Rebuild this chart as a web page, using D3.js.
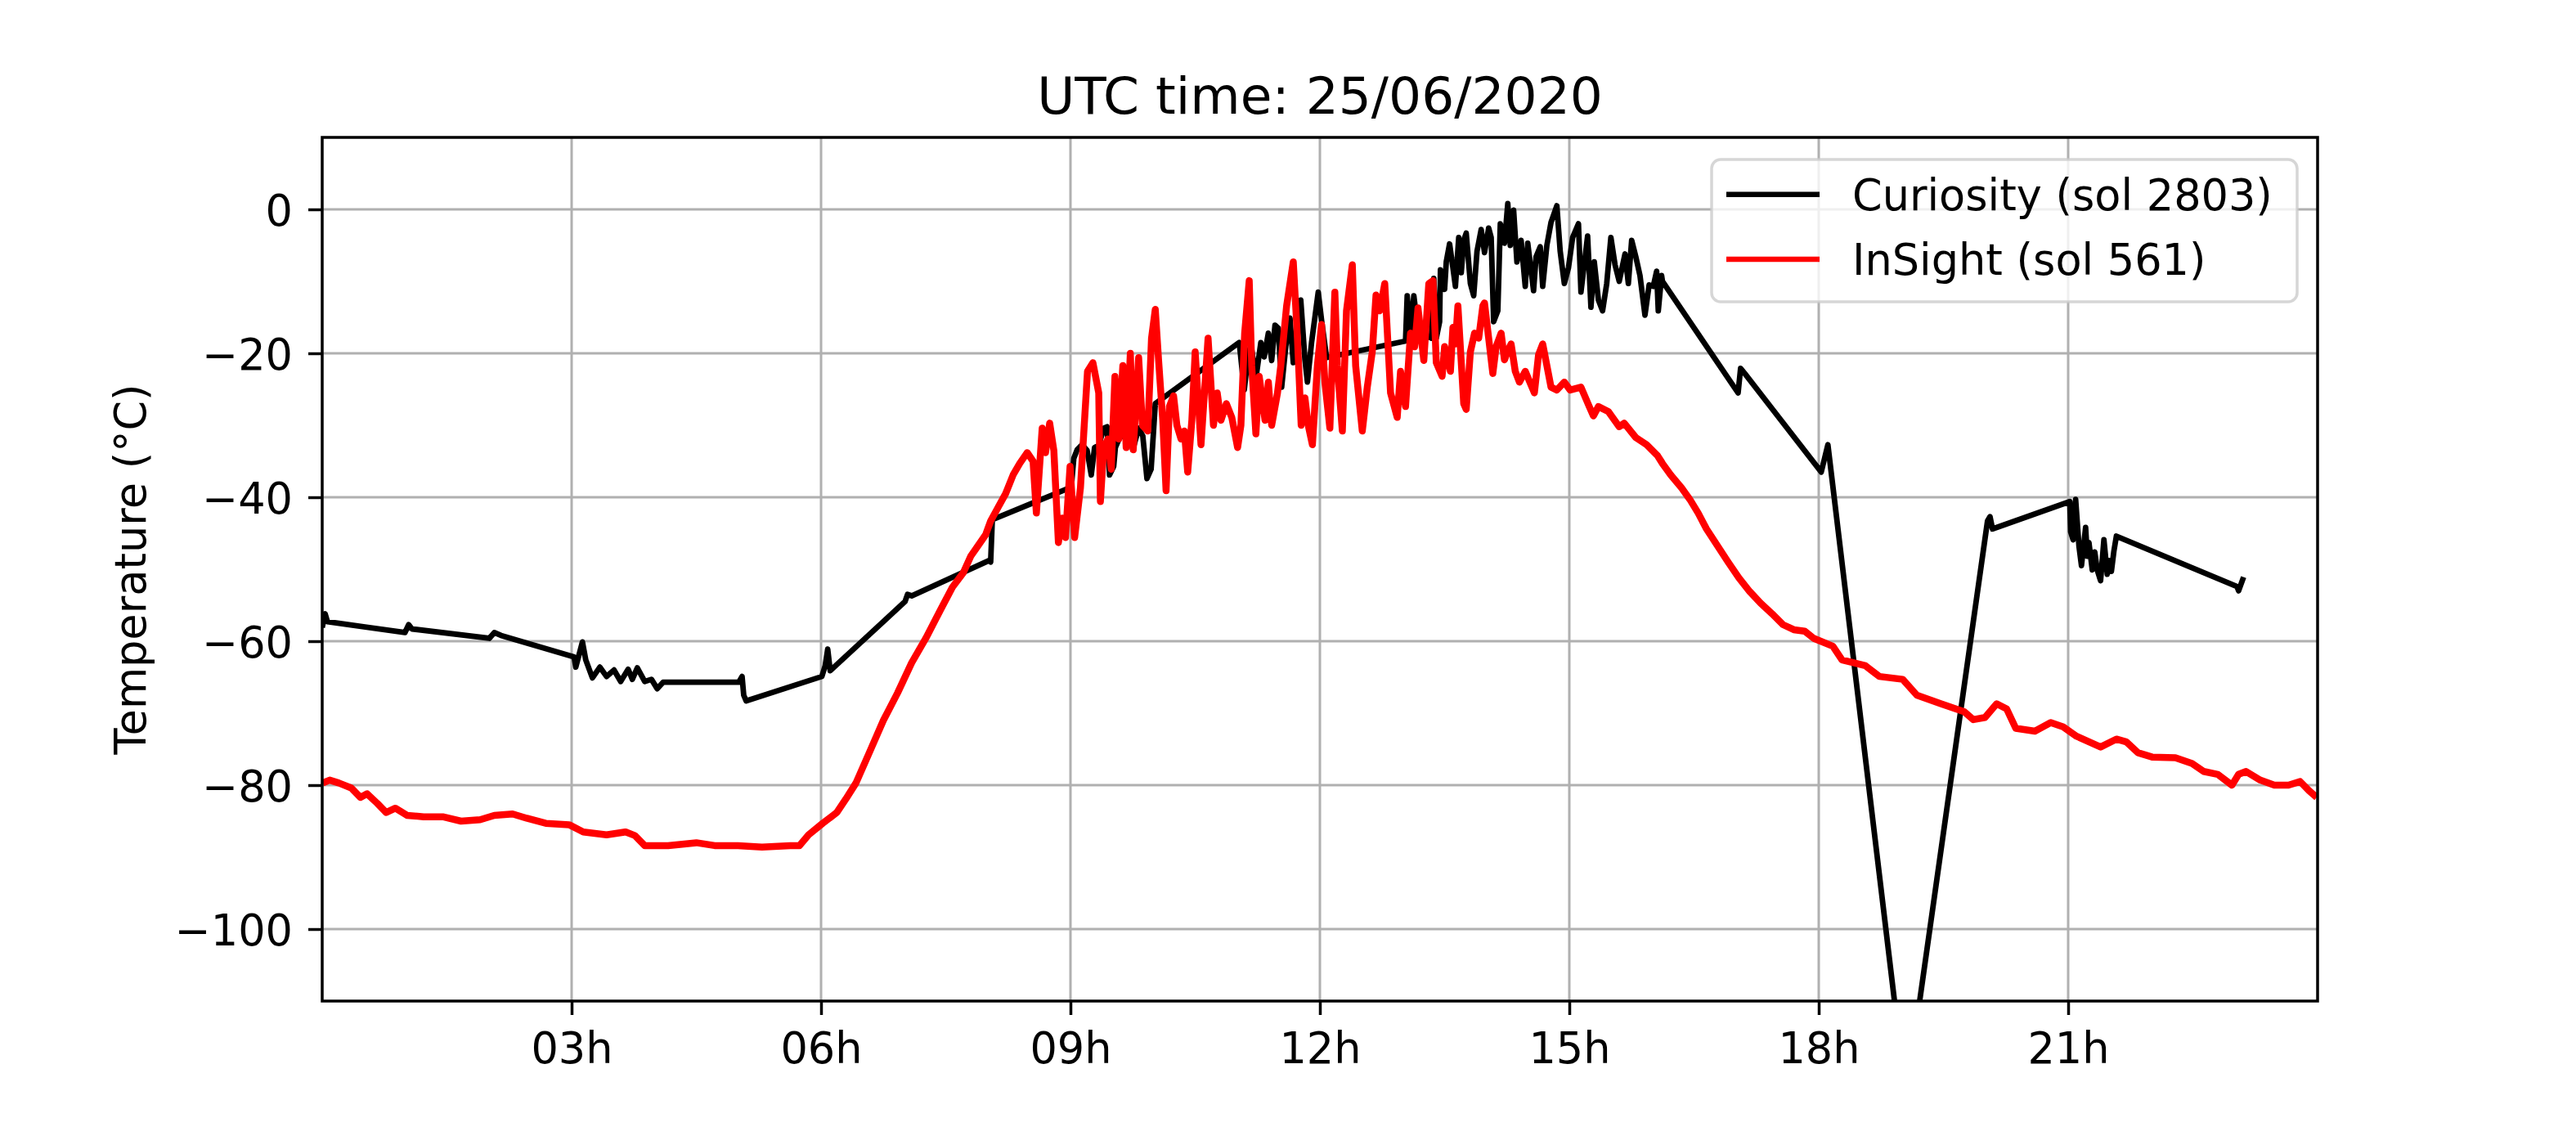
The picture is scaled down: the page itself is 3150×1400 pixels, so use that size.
<!DOCTYPE html>
<html><head><meta charset="utf-8">
<script src="https://cdn.jsdelivr.net/npm/d3@7"></script>
<style>
body{margin:0;background:#fff}
text{font-family:"DejaVu Sans",sans-serif;fill:#000}
</style>
</head><body>
<svg id="chart" width="3150" height="1400"></svg>
<script>
// ---- data (hours UTC, temperature °C) ----
const curiosityTime = [0.00,0.035,0.063,0.995,1.04,1.08,2.01,2.07,2.15,3.03,3.05,3.13,3.17,3.25,3.34,3.42,3.51,3.59,3.68,3.73,3.79,3.88,3.96,4.03,4.10,5.01,5.05,5.07,5.10,6.01,6.05,6.08,6.11,7.01,7.04,7.09,8.02,8.04,8.06,9.01,9.04,9.08,9.14,9.20,9.25,9.29,9.34,9.40,9.44,9.47,9.52,9.54,9.58,9.63,9.69,9.75,9.82,9.87,9.92,9.97,10.02,11.03,11.09,11.13,11.17,11.23,11.29,11.33,11.38,11.42,11.46,11.50,11.54,11.59,11.64,11.68,11.77,11.82,11.85,11.90,11.98,12.02,12.08,13.03,13.05,13.09,13.13,13.18,13.27,13.34,13.37,13.40,13.44,13.45,13.50,13.52,13.56,13.60,13.63,13.67,13.70,13.73,13.76,13.81,13.85,13.89,13.94,13.98,14.03,14.06,14.09,14.14,14.17,14.22,14.26,14.29,14.33,14.37,14.42,14.47,14.50,14.57,14.60,14.65,14.68,14.73,14.78,14.85,14.89,14.94,14.99,15.04,15.11,15.14,15.22,15.26,15.30,15.35,15.40,15.45,15.50,15.55,15.60,15.67,15.71,15.75,15.80,15.85,15.91,15.96,16.01,16.05,16.07,16.11,16.12,17.03,17.06,17.11,18.03,18.11,19.05,20.03,20.06,20.09,21.02,21.03,21.06,21.09,21.13,21.16,21.21,21.23,21.25,21.29,21.32,21.35,21.39,21.43,21.47,21.49,21.52,21.55,21.58,23.03,23.05,23.11];
const curiosityTemp = [-58.1,-56.2,-57.3,-58.8,-57.7,-58.3,-59.6,-58.8,-59.2,-62.2,-63.6,-60.1,-62.6,-65.1,-63.6,-64.9,-64.0,-65.6,-63.9,-65.3,-63.7,-65.6,-65.3,-66.6,-65.7,-65.7,-64.9,-67.5,-68.3,-64.9,-63.4,-61.1,-64.1,-54.5,-53.5,-53.7,-48.8,-49.0,-43.1,-38.6,-34.6,-33.4,-32.7,-33.5,-36.9,-33.1,-32.8,-30.4,-30.2,-36.9,-35.7,-33.1,-32.0,-31.2,-28.9,-33.4,-30.4,-31.5,-37.4,-36.1,-27.0,-18.5,-25.1,-21.0,-18.7,-23.5,-18.5,-20.5,-17.2,-21.0,-16.1,-16.5,-24.7,-19.0,-15.1,-21.3,-12.6,-20.9,-24.0,-18.5,-11.5,-15.4,-20.6,-18.3,-12.0,-17.2,-12.0,-16.8,-17.5,-17.9,-9.6,-17.9,-15.6,-8.4,-11.1,-7.3,-4.8,-8.1,-10.7,-3.9,-8.8,-4.3,-3.3,-10.3,-12.0,-5.8,-2.8,-6.0,-2.6,-3.9,-15.6,-14.1,-2.0,-4.7,0.8,-5.0,-0.1,-7.3,-4.3,-10.7,-4.7,-11.3,-6.6,-5.2,-10.7,-5.0,-1.8,0.5,-5.8,-10.3,-8.1,-3.9,-2.0,-11.5,-3.7,-13.6,-7.3,-12.6,-14.1,-10.3,-3.9,-7.7,-10.0,-6.2,-10.3,-4.3,-6.6,-9.2,-14.7,-10.5,-10.7,-8.6,-14.1,-9.2,-10.0,-25.5,-22.1,-22.8,-36.5,-32.7,-123.4,-43.3,-42.7,-44.4,-40.6,-44.8,-45.9,-40.3,-46.8,-49.5,-44.2,-48.2,-46.3,-50.1,-47.6,-50.1,-51.6,-45.9,-50.7,-48.8,-50.3,-47.5,-45.4,-52.4,-53.0,-51.1];

const insightTime = [0.007,0.09,0.20,0.35,0.46,0.54,0.66,0.77,0.88,1.02,1.22,1.45,1.67,1.90,2.07,2.29,2.46,2.69,2.97,3.14,3.42,3.65,3.76,3.88,4.16,4.50,4.72,5.00,5.29,5.63,5.74,5.85,6.02,6.19,6.30,6.42,6.58,6.75,6.92,7.09,7.26,7.43,7.58,7.71,7.80,7.89,7.98,8.04,8.13,8.22,8.31,8.39,8.48,8.55,8.59,8.66,8.70,8.75,8.80,8.855,8.90,8.94,8.995,9.05,9.12,9.205,9.27,9.34,9.36,9.40,9.45,9.49,9.535,9.58,9.63,9.67,9.72,9.755,9.82,9.865,9.93,9.975,10.02,10.06,10.11,10.15,10.19,10.24,10.28,10.33,10.37,10.41,10.46,10.50,10.57,10.655,10.72,10.765,10.81,10.875,10.94,11.01,11.05,11.095,11.15,11.18,11.23,11.27,11.34,11.38,11.42,11.49,11.53,11.60,11.68,11.73,11.775,11.82,11.86,11.91,11.97,12.02,12.06,12.12,12.18,12.21,12.27,12.32,12.39,12.43,12.51,12.57,12.63,12.675,12.72,12.78,12.85,12.93,12.97,13.03,13.09,13.14,13.18,13.25,13.31,13.36,13.40,13.47,13.50,13.57,13.60,13.63,13.66,13.73,13.76,13.81,13.86,13.91,13.96,13.98,14.03,14.08,14.12,14.18,14.22,14.27,14.30,14.35,14.40,14.47,14.58,14.63,14.68,14.78,14.85,14.94,15.01,15.14,15.24,15.29,15.35,15.47,15.60,15.66,15.80,15.93,16.06,16.12,16.22,16.35,16.45,16.55,16.65,16.78,16.91,17.04,17.17,17.30,17.44,17.57,17.70,17.83,17.94,18.17,18.28,18.56,18.73,19.01,19.18,19.47,19.75,19.86,20.00,20.14,20.26,20.37,20.60,20.79,20.94,21.10,21.39,21.58,21.70,21.84,22.01,22.29,22.49,22.63,22.80,22.97,23.05,23.14,23.31,23.48,23.65,23.79,23.90,23.99];
const insightTemp = [-79.7,-79.3,-79.7,-80.4,-81.7,-81.2,-82.5,-83.8,-83.2,-84.2,-84.4,-84.4,-85.0,-84.8,-84.2,-84.0,-84.6,-85.3,-85.5,-86.5,-86.9,-86.5,-87.0,-88.4,-88.4,-88.0,-88.4,-88.4,-88.6,-88.4,-88.4,-86.9,-85.3,-83.8,-81.9,-79.7,-75.5,-71.0,-67.2,-63.0,-59.6,-55.8,-52.5,-50.5,-48.2,-46.7,-45.2,-43.3,-41.4,-39.5,-36.9,-35.3,-33.8,-35.0,-42.2,-30.4,-33.8,-29.7,-33.5,-46.3,-42.9,-45.6,-35.7,-45.6,-38.7,-22.5,-21.3,-25.5,-40.6,-33.1,-31.9,-36.1,-23.2,-31.9,-21.7,-33.1,-20.0,-33.4,-20.6,-30.0,-30.8,-17.9,-13.9,-21.0,-29.3,-39.1,-27.4,-25.9,-30.0,-31.9,-30.8,-36.5,-29.3,-19.8,-32.7,-17.9,-30.0,-25.5,-29.3,-27.0,-28.9,-33.1,-30.0,-17.2,-9.9,-21.7,-31.2,-23.2,-29.3,-24.0,-30.0,-25.5,-21.7,-13.4,-7.3,-17.9,-30.0,-26.2,-30.0,-32.7,-21.7,-16.0,-24.0,-30.4,-11.5,-21.7,-30.8,-14.1,-7.7,-21.7,-30.8,-24.7,-19.8,-11.9,-14.1,-10.3,-25.5,-28.9,-22.5,-27.4,-17.2,-19.1,-13.7,-21.0,-10.3,-9.9,-21.3,-23.2,-19.05,-22.5,-16.4,-18.7,-13.4,-27.0,-27.8,-19.8,-17.2,-17.9,-13.4,-13.0,-17.9,-22.8,-19.05,-17.2,-20.9,-19.4,-18.7,-22.5,-24.0,-22.5,-25.5,-20.2,-18.7,-24.7,-25.1,-24.0,-25.1,-24.7,-27.4,-28.7,-27.4,-28.1,-30.2,-29.7,-31.7,-32.7,-34.2,-35.3,-36.9,-38.7,-40.3,-42.2,-44.4,-46.7,-49.0,-51.2,-53.1,-54.7,-56.2,-57.7,-58.4,-58.6,-59.6,-60.7,-62.6,-63.4,-64.9,-65.3,-67.5,-68.7,-69.8,-70.9,-70.6,-68.7,-69.4,-72.1,-72.5,-71.3,-71.9,-73.2,-74.7,-73.6,-74.0,-75.5,-76.1,-76.2,-77.0,-78.1,-78.5,-80.0,-78.5,-78.1,-79.3,-80.0,-80.0,-79.5,-80.8,-81.7];

const xTickValues = [3,6,9,12,15,18,21];
const xTickLabels = ["03h","06h","09h","12h","15h","18h","21h"];
const yTickValues = [-100,-80,-60,-40,-20,0];
const seriesNames = ["Curiosity (sol 2803)","InSight (sol 561)"];
const seriesColors = ["#000000","#ff0000"];
const titleText = "UTC time: 25/06/2020";
const yLabelText = "Temperature (°C)";

// ---- layout ----
const L=394, R=2834, T=168, B=1224;
const FS=52.5;
const svg=d3.select("#chart");
svg.append("rect").attr("width",3150).attr("height",1400).attr("fill","#fff");

const x=d3.scaleLinear().domain([0,24]).range([L,R]);
const y=d3.scaleLinear().domain([-110,10]).range([B,T]);

// grid
const grid=svg.append("g");
grid.selectAll("line.gx").data(xTickValues).join("line")
  .attr("x1",d=>x(d)).attr("x2",d=>x(d)).attr("y1",T).attr("y2",B)
  .attr("stroke","#b0b0b0").attr("stroke-width",3);
grid.selectAll("line.gy").data(yTickValues).join("line")
  .attr("x1",L).attr("x2",R).attr("y1",d=>y(d)).attr("y2",d=>y(d))
  .attr("stroke","#b0b0b0").attr("stroke-width",3);

// clip
svg.append("defs").append("clipPath").attr("id","clip")
  .append("rect").attr("x",L).attr("y",T).attr("width",R-L).attr("height",B-T);

const line=d3.line().x(d=>x(d[0])).y(d=>y(d[1]));
const curiosity=d3.zip(curiosityTime,curiosityTemp);
const insight=d3.zip(insightTime,insightTemp);
const plot=svg.append("g").attr("clip-path","url(#clip)");
plot.append("path").datum(curiosity).attr("d",line).attr("fill","none")
  .attr("stroke",seriesColors[0]).attr("stroke-width",6.8).attr("stroke-linejoin","round");
plot.append("path").datum(insight).attr("d",line).attr("fill","none")
  .attr("stroke",seriesColors[1]).attr("stroke-width",8.5).attr("stroke-linejoin","round");

// axes
const xAxis=d3.axisBottom(x).tickValues(xTickValues)
  .tickFormat((d,i)=>xTickLabels[i]).tickSize(17).tickPadding(21.7);
const gx=svg.append("g").attr("transform",`translate(0,${B})`).call(xAxis);
const yAxis=d3.axisLeft(y).tickValues(yTickValues).tickSize(17).tickPadding(19);
const gy=svg.append("g").attr("transform",`translate(${L},0)`).call(yAxis);
[gx,gy].forEach(g=>{
  g.select(".domain").remove();
  g.selectAll(".tick line").attr("stroke","#000").attr("stroke-width",3.5);
  g.selectAll(".tick text").attr("font-size",FS).attr("font-family","DejaVu Sans").attr("fill","#000");
});
gy.selectAll(".tick text").attr("dy","0.38em");

// spines
svg.append("rect").attr("x",L).attr("y",T).attr("width",R-L).attr("height",B-T)
  .attr("fill","none").attr("stroke","#000").attr("stroke-width",3.5);

// title
svg.append("text").attr("x",(L+R)/2).attr("y",139).attr("text-anchor","middle")
  .attr("font-size",63).text(titleText);

// y label
svg.append("text").attr("transform",`translate(178,${(T+B)/2}) rotate(-90)`)
  .attr("text-anchor","middle").attr("font-size",FS).text(yLabelText);

// legend
const lg=svg.append("g");
lg.append("rect").attr("x",2093).attr("y",195).attr("width",716).attr("height",174)
  .attr("rx",11).attr("ry",11).attr("fill","#fff").attr("fill-opacity",0.8)
  .attr("stroke","#cccccc").attr("stroke-opacity",0.8).attr("stroke-width",3.5);
const rows=[237.7,317];
seriesNames.forEach((n,i)=>{
  lg.append("line").attr("x1",2111).attr("x2",2225).attr("y1",rows[i]).attr("y2",rows[i])
    .attr("stroke",seriesColors[i]).attr("stroke-width",6.5);
  lg.append("text").attr("x",2265).attr("y",rows[i]+19).attr("font-size",FS).text(n);
});
</script>
</body></html>
